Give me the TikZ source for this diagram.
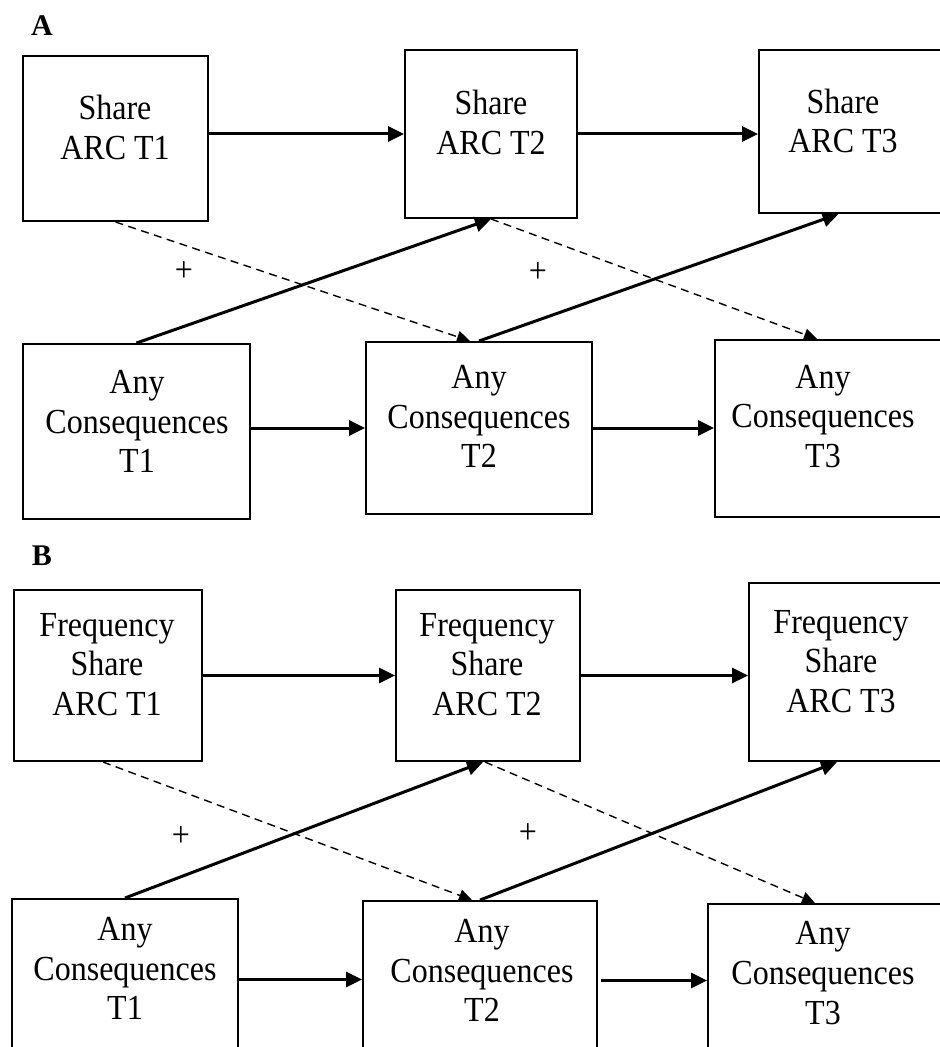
\documentclass[tikz,border=0pt]{standalone}
\usepackage{fontspec}
\setmainfont{Liberation Serif}
\usetikzlibrary{positioning}
\usetikzlibrary{fit}
\usetikzlibrary{arrows.meta}
\tikzset{
	box/.style={
		draw,
		line width=1pt,
		inner sep=0pt
	},
	boxtext/.style={
		align=center,
		inner sep=0pt,
		yscale=1.1,
		transform shape,
		font=\fontsize{16}{18}\selectfont
	},
	flow/.style={
		line width=1.5pt,
		-{Triangle[length=8pt,width=7.5pt]}
	},
	cross/.style={
		line width=0.7pt,
		dash pattern=on 4pt off 2.75pt,
		-{Triangle[length=6.5pt,width=6pt]}
	},
	panel/.style={
		inner sep=0pt,
		font=\fontsize{15}{17}\selectfont\bfseries
	}
}
\begin{document}
\begin{tikzpicture}[x=0.5pt,y=-0.5pt]
	\useasboundingbox (0,0) rectangle (940,1047);
	\clip (0,0) rectangle (940,1047);
	
	% A
	\node[panel] (LabelA) at (42,26) {A};
	\node[box, fit={(23,56) (208,221)}] (ShareA1) {};
	\node[box, fit={(405,50) (577,218)}] (ShareA2) {};
	\node[box, fit={(759,50) (950,213)}] (ShareA3) {};
	\node[box, fit={(23,344) (250,519)}] (ConsA1) {};
	\node[box, fit={(366,342) (592,514)}] (ConsA2) {};
	\node[box, fit={(715,340) (950,517)}] (ConsA3) {};
	\node[boxtext] (ShareA1Text) at (115,127.5) {Share\\ARC T1};
	\node[boxtext] (ShareA2Text) at (491,122.5) {Share\\ARC T2};
	\node[boxtext] (ShareA3Text) at (843,121) {Share\\ARC T3};
	\node[boxtext] (ConsA1Text) at (137,421.5) {Any\\Consequences\\T1};
	\node[boxtext] (ConsA2Text) at (479,416.5) {Any\\Consequences\\T2};
	\node[boxtext] (ConsA3Text) at (823,416.5) {Any\\Consequences\\T3};
	\node[boxtext] (PlusA1) at (184,272) {+};
	\node[boxtext] (PlusA2) at (538,273) {+};
	
	\draw[flow] (ShareA1.east |- ShareA2.west) -- (ShareA2.west);
	\draw[flow] (ShareA2.east) -- (ShareA3.west |- ShareA2.east);
	\draw[flow] (ConsA1.east |- ConsA2.west) -- (ConsA2.west);
	\draw[flow] (ConsA2.east) -- (ConsA3.west |- ConsA2.east);
	\draw[flow] (ConsA1.north) -- (ShareA2.south);
	\draw[flow] (ConsA2.north) -- ([xshift=-8pt]ShareA3.south);
	\draw[cross] (ShareA1.south) -- ([xshift=-4.5pt]ConsA2.north);
	\draw[cross] (ShareA2.south) -- ([xshift=-7.75pt]ConsA3.north);
	
	% B
	\node[panel] (LabelB) at (42,556) {B};
	\node[box, fit={(14,590) (202,761)}] (FreqB1) {};
	\node[box, fit={(396,590) (580,761)}] (FreqB2) {};
	\node[box, fit={(749,583) (950,761)}] (FreqB3) {};
	\node[box, fit={(12,899) (238,1060)}] (ConsB1) {};
	\node[box, fit={(363,901) (597,1060)}] (ConsB2) {};
	\node[box, fit={(708,904) (950,1060)}] (ConsB3) {};
	\node[boxtext] (FreqB1Text) at (107,664.5) {Frequency\\Share\\ARC T1};
	\node[boxtext] (FreqB2Text) at (487,664.5) {Frequency\\Share\\ARC T2};
	\node[boxtext] (FreqB3Text) at (841,661.5) {Frequency\\Share\\ARC T3};
	\node[boxtext] (ConsB1Text) at (125,968.5) {Any\\Consequences\\T1};
	\node[boxtext] (ConsB2Text) at (482,970.5) {Any\\Consequences\\T2};
	\node[boxtext] (ConsB3Text) at (823,973) {Any\\Consequences\\T3};
	\node[boxtext] (PlusB1) at (181,837) {+};
	\node[boxtext] (PlusB2) at (528,834) {+};
	
	\draw[flow] (FreqB1) -- (FreqB2);
	\draw[flow] (FreqB2.east) -- (FreqB3.west |- FreqB2.east);
	\draw[flow] (ConsB1.east) -- (ConsB2.west |- ConsB1.east);
	\draw[flow] ([xshift=1.5pt]ConsB2.east) -- (ConsB3.west |- ConsB2.east);
	\draw[flow] (ConsB1.north) -- ([xshift=-2.5pt]FreqB2.south);
	\draw[flow] (ConsB2.north) -- ([xshift=-6.25pt]FreqB3.south);
	\draw[cross] ([xshift=-2.5pt]FreqB1.south) -- ([xshift=-4pt]ConsB2.north);
	\draw[cross] ([xshift=-1.5pt]FreqB2.south) -- ([xshift=-7pt]ConsB3.north);
\end{tikzpicture}
\end{document}
